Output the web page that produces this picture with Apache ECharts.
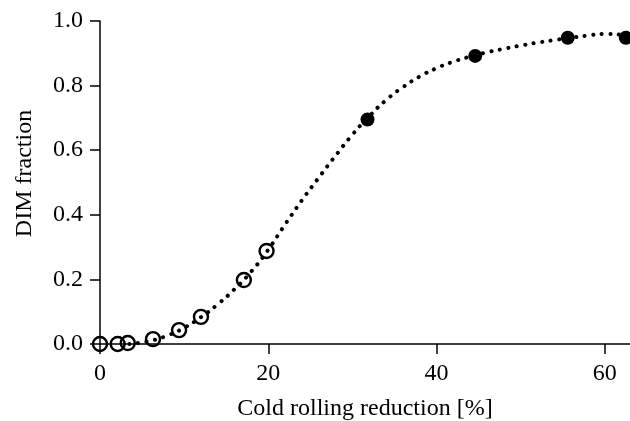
<!DOCTYPE html>
<html>
<head>
<meta charset="utf-8">
<script src="https://cdn.jsdelivr.net/npm/echarts@6/dist/echarts.min.js"></script>
<style>
  html, body { margin: 0; padding: 0; background: #fff; }
  #main { width: 630px; height: 421px; }
</style>
</head>
<body>
<div id="main"></div>
<script>
// measured points (open = low reduction, filled = high reduction)
var openX = [0, 2.1, 3.3, 6.3, 9.4, 12.0, 17.1, 19.8];
var openY = [0, 0, 0.003, 0.015, 0.043, 0.084, 0.198, 0.288];
var filledX = [31.8, 44.6, 55.6, 62.5];
var filledY = [0.695, 0.892, 0.948, 0.948];

// fitted curve
var curveX = [3.5, 6, 8, 10, 12, 14, 16, 18, 20, 22, 24, 26, 28, 30, 32, 34, 36, 38, 40, 42, 44, 46, 48, 50, 52, 54, 56, 58, 60, 62, 63];
var curveY = [0.0, 0.01, 0.026, 0.05, 0.083, 0.123, 0.17, 0.225, 0.292, 0.37, 0.445, 0.515, 0.583, 0.648, 0.705, 0.755, 0.795, 0.828, 0.854, 0.874, 0.89, 0.903, 0.914, 0.924, 0.933, 0.941, 0.948, 0.955, 0.96, 0.957, 0.952];

var xTicks = [0, 20, 40, 60];

function pairs(xs, ys) {
  var out = [];
  for (var i = 0; i < xs.length; i++) out.push([xs[i], ys[i]]);
  return out;
}

var font = "'Liberation Serif', 'Times New Roman', Times, serif";
var myChart = echarts.init(document.getElementById('main'));
myChart.setOption({
  animation: false,
  grid: { left: 100, right: 0, top: 21, bottom: 77, containLabel: false, outerBoundsMode: 'none' },
  xAxis: {
    type: 'value',
    min: 0,
    max: 63,
    name: 'Cold rolling reduction [%]',
    nameLocation: 'middle',
    nameGap: 53,
    nameTextStyle: { fontFamily: font, fontSize: 24, color: '#000' },
    axisLine: { lineStyle: { color: '#000', width: 1.5 } },
    axisTick: { show: true, length: 10, customValues: xTicks, lineStyle: { color: '#000', width: 1.5 } },
    axisLabel: { customValues: xTicks, fontFamily: font, fontSize: 24, color: '#000', margin: 18 },
    splitLine: { show: false }
  },
  yAxis: {
    type: 'value',
    min: 0,
    max: 1,
    interval: 0.2,
    name: 'DIM fraction',
    nameLocation: 'middle',
    nameGap: 63,
    nameTextStyle: { fontFamily: font, fontSize: 24, color: '#000', padding: [0, 0, 0, 18] },
    axisLine: { show: true, lineStyle: { color: '#000', width: 1.5 } },
    axisTick: { show: true, length: 10, lineStyle: { color: '#000', width: 1.5 } },
    axisLabel: {
      fontFamily: font, fontSize: 24, color: '#000', margin: 17,
      formatter: function (v) { return v.toFixed(1); }
    },
    splitLine: { show: false }
  },
  series: [
    {
      name: 'fit',
      type: 'line',
      smooth: true,
      showSymbol: false,
      symbol: 'none',
      clip: false,
      data: pairs(curveX, curveY),
      lineStyle: { color: '#000', width: 4, type: [0.1, 8.5], cap: 'round' },
      z: 2
    },
    {
      name: 'open',
      type: 'scatter',
      symbol: 'circle',
      symbolSize: 14,
      clip: false,
      data: pairs(openX, openY),
      itemStyle: { color: 'rgba(0,0,0,0)', borderColor: '#000', borderWidth: 2.4, opacity: 1 },
      z: 3
    },
    {
      name: 'filled',
      type: 'scatter',
      symbol: 'circle',
      symbolSize: 14,
      clip: false,
      data: pairs(filledX, filledY),
      itemStyle: { color: '#000', opacity: 1 },
      z: 3
    }
  ]
});
</script>
</body>
</html>
